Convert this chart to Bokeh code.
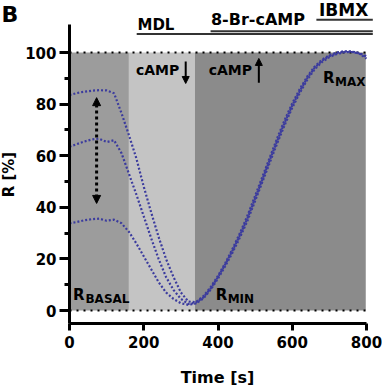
import math
from bokeh.plotting import figure
from bokeh.models import FixedTicker, Arrow, NormalHead
from bokeh.core.properties import value
from bokeh.embed import file_html
from bokeh.resources import INLINE

# ---------------- data ----------------
time_s = list(range(0, 801, 20))
r_high = [83.5, 84.3, 84.8, 85.2, 85.4, 85.3, 84.2, 76.5, 68, 59,
          48, 38, 28.5, 20, 13, 7, 3.5, 3.2, 5.5, 9,
          13.5, 18.5, 24.2, 30.3, 37, 44.5, 52, 59.5, 67, 74,
          80.3, 85.8, 90.6, 94.5, 97.2, 99, 100, 100.5, 100.4, 99.8,
          98.6]
r_mid = [63.5, 64.5, 65.5, 66.3, 66.6, 65.3, 66, 61, 53, 45,
         36.5, 28, 20, 13, 8, 4.5, 2.6, 3, 5, 8.5,
         13, 18, 23.5, 29.5, 36, 43.5, 51, 58.5, 66, 73,
         79.5, 85, 90, 94, 96.8, 98.6, 99.7, 100.3, 100.3, 99.7,
         98.2]
r_low = [33.8, 34.3, 35, 35.4, 35.6, 34.8, 35.2, 33.8, 30.5, 26,
         21, 16, 11, 7, 4.5, 2.8, 2.2, 2.7, 4.6, 8,
         12.4, 17.3, 22.7, 28.6, 35, 42.5, 50, 57.5, 65, 72,
         78.6, 84.2, 89.3, 93.4, 96.3, 98.2, 99.4, 100.1, 100.2, 99.6,
         97.6]

phase_start = [0, 160, 338]
phase_end = [160, 338, 798]
phase_colors = ["#9c9c9c", "#c4c4c4", "#8b8b8b"]

ref_levels = [0, 100]

treatments = ["MDL", "8-Br-cAMP", "IBMX"]
treat_start = [181, 380, 665]
treat_end = [817, 817, 817]

x_ticks = [0, 200, 400, 600, 800]
y_ticks = [0, 20, 40, 60, 80, 100]
y_minor = [10, 30, 50, 70, 90]

FONT = "DejaVu Sans"
CURVE = "#3b3b9e"

# ---------------- figure ----------------
# the frame fills the whole canvas; the axes sit at fixed data locations
p = figure(width=382, height=389, x_range=(-185.9, 843.1), y_range=(-30.62, 120.16),
           output_backend="svg", toolbar_location=None,
           min_border_left=0, min_border_right=0, min_border_top=0,
           min_border_bottom=0)
p.outline_line_color = None
p.grid.visible = False
p.background_fill_color = "white"


def txt(x, y, s, size, align="left", **kw):
    p.text(x=[x], y=[y], text=[s], text_font=value(FONT), text_font_style="bold",
           text_font_size=size, text_color="black",
           text_baseline="middle", text_align=align, **kw)


# phase shading
p.quad(left=phase_start, right=phase_end, bottom=0, top=100,
       fill_color=phase_colors, line_color=None)

# reference dotted lines at 0 and 100
p.segment(x0=[0, 0], y0=ref_levels, x1=[800, 800], y1=ref_levels,
          line_color="black", line_width=2.2, line_dash="2 5")

# curves
for ys in (r_high, r_mid, r_low):
    p.line(time_s, ys, line_color=CURVE, line_width=2.2, line_dash="2 2")

# treatment bars
p.segment(x0=treat_start, y0=[107.2, 108.2, 112.7], x1=treat_end,
          y1=[107.2, 108.2, 112.7], line_color="#333333", line_width=2)
txt(183, 110.7, treatments[0], "15px")
txt(381, 112.7, treatments[1], "16px")
txt(672, 116.5, treatments[2], "17px")

# cAMP labels with arrows
txt(179, 93.4, "cAMP", "14px")
txt(375, 93.4, "cAMP", "14px")
p.add_layout(Arrow(x_start=313, y_start=96.5, x_end=313, y_end=88.0,
                   line_width=2, line_color="black",
                   end=NormalHead(size=7, fill_color="black", line_color="black")))
p.add_layout(Arrow(x_start=510, y_start=88.3, x_end=510, y_end=97.7,
                   line_width=2, line_color="black",
                   end=NormalHead(size=7, fill_color="black", line_color="black")))

# double-headed dotted arrow
p.add_layout(Arrow(x_start=73, y_start=41.5, x_end=73, y_end=82.5,
                   line_width=3, line_color="black", line_dash="3 3",
                   start=NormalHead(size=8, fill_color="black", line_color="black"),
                   end=NormalHead(size=8, fill_color="black", line_color="black")))

# R labels with subscripts
txt(9.4, 6.2, "R", "15px")
txt(43, 4.65, "BASAL", "12px")
txt(394, 6.2, "R", "15px")
txt(426, 4.65, "MIN", "12px")
txt(682.5, 90.1, "R", "15px")
txt(715, 88.4, "MAX", "12px")

# axis titles and panel letter
txt(-164.3, 52.7, "R [%]", "15px", align="center", angle=math.pi / 2)
txt(398.7, -26, "Time [s]", "16px", align="center")
txt(-183.0, 114.7, "B", "22px")

# axes
for ax in (p.xaxis[0], p.yaxis[0]):
    ax.axis_line_width = 3
    ax.axis_line_color = "black"
    ax.major_tick_line_width = 3
    ax.major_tick_line_color = "black"
    ax.major_tick_in = 0
    ax.major_label_text_font = FONT
    ax.major_label_text_font_style = "bold"
    ax.major_label_text_font_size = "15px"
    ax.major_label_text_color = "black"

p.xaxis.fixed_location = -5
p.xaxis.ticker = FixedTicker(ticks=x_ticks)
p.xaxis.bounds = (0, 800)
p.xaxis.major_tick_out = 7
p.xaxis.minor_tick_line_color = None
p.xaxis.major_label_standoff = 6

p.yaxis.fixed_location = 0
p.yaxis.ticker = FixedTicker(ticks=y_ticks, minor_ticks=y_minor)
p.yaxis.bounds = (-5, 111)
p.yaxis.major_tick_out = 10
p.yaxis.minor_tick_out = 5
p.yaxis.minor_tick_in = 0
p.yaxis.minor_tick_line_width = 3
p.yaxis.minor_tick_line_color = "black"
p.yaxis.major_label_standoff = 3

open("out.html", "w").write(file_html(p, INLINE))
